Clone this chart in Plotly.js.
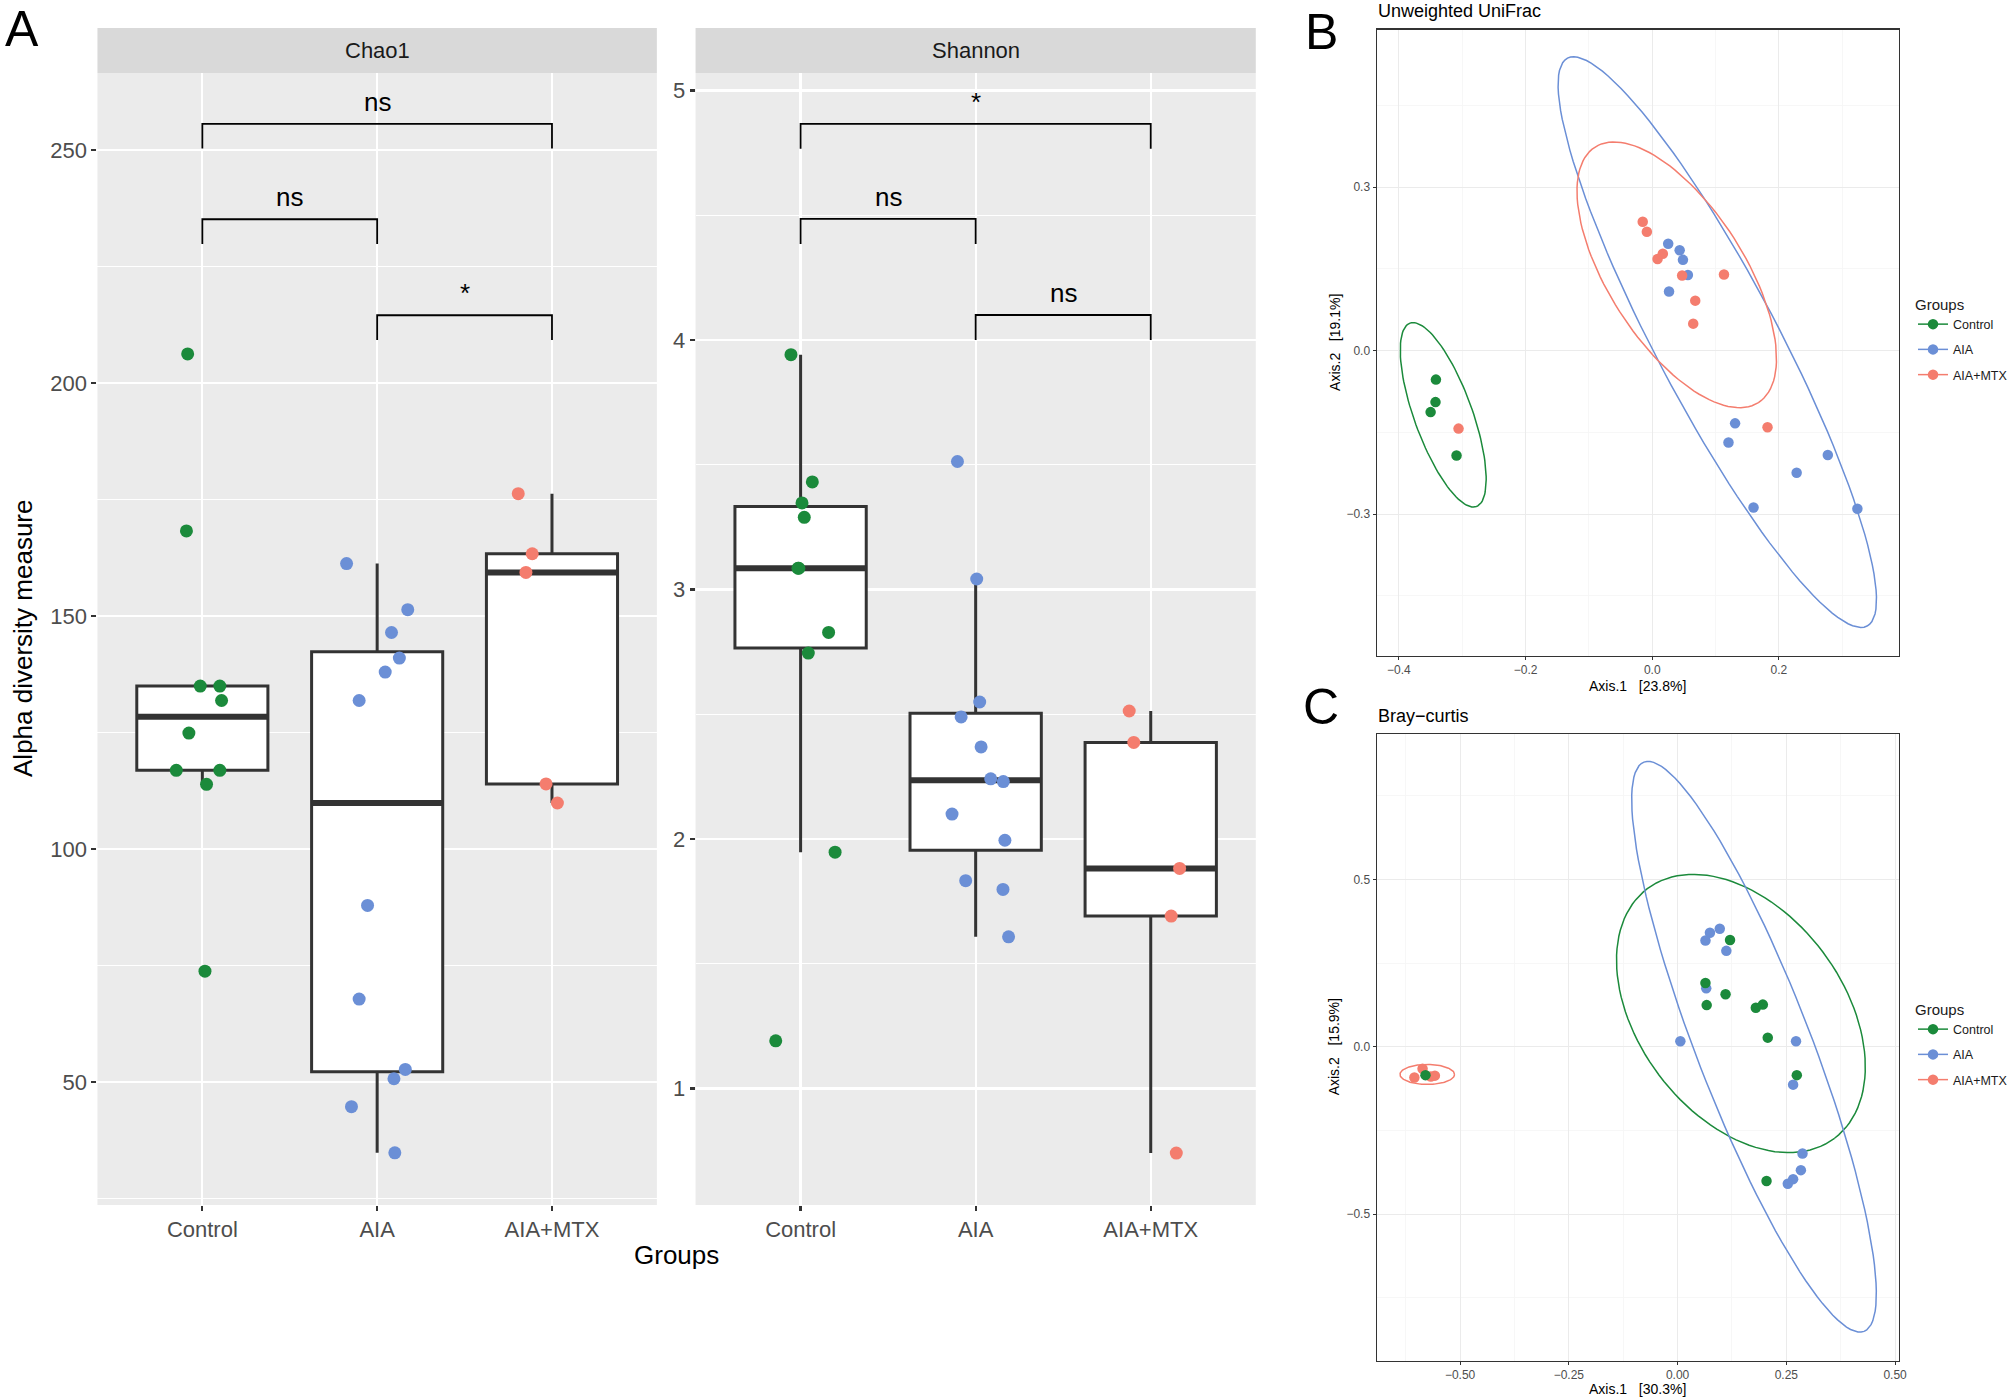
<!DOCTYPE html>
<html>
<head>
<meta charset="utf-8">
<script src="https://cdn.plot.ly/plotly-3.0.1.min.js"></script>
<style>
  html, body { margin: 0; padding: 0; background: #fff; }
  #fig { width: 2013px; height: 1399px; }
</style>
</head>
<body>
<div id="fig"></div>
<script>
// groups and colours used in every panel
let groups = ['Control', 'AIA', 'AIA+MTX'];
let groupColors = ['#1B8A3B', '#6B8FD6', '#F47D6E'];

// panel A, Chao1 values and the horizontal jitter of each dot
let chaoControl = [206.3, 168.3, 135.0, 135.0, 131.9, 124.9, 116.9, 116.9, 113.9, 73.8];
let chaoControlJit = [-0.084, -0.091, -0.012, 0.100, 0.110, -0.077, -0.149, 0.100, 0.024, 0.015];
let chaoAIA = [161.3, 151.4, 146.5, 141.0, 138.0, 131.9, 87.9, 67.8, 52.7, 50.7, 44.7, 34.8];
let chaoAIAJit = [-0.175, 0.175, 0.082, 0.127, 0.046, -0.103, -0.055, -0.103, 0.161, 0.096, -0.147, 0.101];
let chaoMTX = [176.3, 163.4, 159.4, 114.0, 109.9];
let chaoMTXJit = [-0.193, -0.113, -0.149, -0.034, 0.031];

// panel A, Shannon
let shanControl = [3.941, 3.431, 3.347, 3.289, 3.085, 3.085, 2.828, 2.745, 1.947, 1.191];
let shanControlJit = [-0.055, 0.067, 0.008, 0.021, -0.015, -0.010, 0.160, 0.044, 0.197, -0.142];
let shanAIA = [3.513, 3.042, 2.549, 2.489, 2.369, 2.241, 2.230, 2.100, 1.995, 1.833, 1.798, 1.608];
let shanAIAJit = [-0.104, 0.006, 0.023, -0.083, 0.031, 0.086, 0.158, -0.135, 0.167, -0.057, 0.156, 0.188];
let shanMTX = [2.513, 2.387, 1.882, 1.691, 0.741];
let shanMTXJit = [-0.123, -0.097, 0.165, 0.117, 0.146];

// significance brackets: pairs of groups, bar height, label
let bracketPairs = [[0, 2], [0, 1], [1, 2]];
let chaoBracketY = [255.7, 235.2, 214.6];
let chaoBracketText = ['ns', 'ns', '*'];
let shanBracketY = [4.866, 4.485, 4.10];
let shanBracketText = ['*', 'ns', 'ns'];

// panel B, unweighted UniFrac PCoA
let ufControlX = [-0.3415, -0.3422, -0.3499, -0.309];
let ufControlY = [-0.0534, -0.0947, -0.113, -0.1926];
let ufAIAX = [0.0252, 0.0433, 0.0485, 0.0563, 0.0265, 0.1308, 0.1204, 0.2772, 0.228, 0.1599, 0.3239];
let ufAIAY = [0.1958, 0.1838, 0.1663, 0.1384, 0.1082, -0.1337, -0.1687, -0.1918, -0.2244, -0.288, -0.2904];
let ufMTXX = [-0.3058, -0.015, -0.0085, 0.0084, 0.0167, 0.0472, 0.1133, 0.0679, 0.0647, 0.182];
let ufMTXY = [-0.1433, 0.2363, 0.218, 0.1679, 0.1774, 0.1376, 0.1393, 0.0915, 0.0493, -0.1409];
// ellipses: centre x, centre y, first semi-axis (dx, dy), second semi-axis (dx, dy)
let ufEllControl = [-0.330, -0.118, 0.0524, -0.1682, -0.0431, -0.0181];
let ufEllAIA = [0.1027, 0.0154, 0.2365, -0.521, -0.0852, -0.0521];
let ufEllMTX = [0.0387, 0.1389, 0.129, -0.2344, -0.0904, -0.0672];

// panel C, Bray-Curtis PCoA
let bcControlX = [0.1206, 0.0641, 0.1103, 0.0669, 0.1799, 0.196, 0.2073, 0.2741, 0.2045, -0.5795];
let bcControlY = [0.3190, 0.1907, 0.1569, 0.1245, 0.1163, 0.1259, 0.0272, -0.0849, -0.4011, -0.0849];
let bcAIAX = [0.097, 0.0744, 0.0641, 0.1121, 0.0659, 0.0064, 0.2723, 0.2656, 0.2872, 0.2835, 0.2656, 0.2534];
let bcAIAY = [0.3529, 0.3407, 0.3177, 0.2866, 0.1745, 0.0164, 0.0164, -0.1133, -0.3189, -0.3688, -0.3957, -0.4094];
let bcMTXX = [-0.605, -0.5862, -0.5579, -0.5673];
let bcMTXY = [-0.0918, -0.066, -0.0864, -0.0892];
let bcEllControl = [0.1456, 0.0994, 0.2152, -0.3729, -0.1884, -0.1839];
let bcEllAIA = [0.1757, 0.0, 0.253, -0.8507, -0.1228, -0.0618];
let bcEllMTX = [-0.5754, -0.0828, 0.0627, 0, 0, -0.0299];

const W = 2013, H = 1399;
function px(x) { return x / W; }
function py(y) { return 1 - y / H; }

// R type 7 quantile, same as ggplot's boxes
function quant(vals, p) {
  let s = vals.slice().sort((a, b) => a - b);
  let h = (s.length - 1) * p, lo = Math.floor(h);
  let hi = Math.min(lo + 1, s.length - 1);
  return s[lo] + (h - lo) * (s[hi] - s[lo]);
}
function boxStats(vals) {
  let q1 = quant(vals, 0.25), med = quant(vals, 0.5), q3 = quant(vals, 0.75);
  let iqr = q3 - q1;
  let inside = vals.filter(v => v >= q1 - 1.5 * iqr && v <= q3 + 1.5 * iqr);
  return {q1: q1, med: med, q3: q3, lo: Math.min(...inside), hi: Math.max(...inside)};
}

let traces = [];
let annotations = [];
let shapes = [];

function boxPanel(valSets, jitSets, xa, ya, brY, brText, tip) {
  valSets.forEach(function(vals, i) {
    let st = boxStats(vals);
    traces.push({
      type: 'box', x: [i], q1: [st.q1], median: [st.med], q3: [st.q3],
      lowerfence: [st.lo], upperfence: [st.hi], width: 0.75,
      fillcolor: 'white', line: {color: '#333333', width: 3}, whiskerwidth: 0,
      boxpoints: false, xaxis: xa, yaxis: ya, showlegend: false, hoverinfo: 'skip'
    });
    // ggplot draws the median thicker
    traces.push({
      type: 'scatter', mode: 'lines', x: [i - 0.375, i + 0.375], y: [st.med, st.med],
      line: {color: '#333333', width: 6}, xaxis: xa, yaxis: ya, showlegend: false, hoverinfo: 'skip'
    });
  });
  valSets.forEach(function(vals, i) {
    traces.push({
      type: 'scatter', mode: 'markers', x: jitSets[i].map(j => i + j), y: vals,
      marker: {color: groupColors[i], size: 13}, xaxis: xa, yaxis: ya, showlegend: false, hoverinfo: 'skip'
    });
  });
  bracketPairs.forEach(function(pr, k) {
    traces.push({
      type: 'scatter', mode: 'lines', x: [pr[0], pr[0], pr[1], pr[1]],
      y: [brY[k] - tip, brY[k], brY[k], brY[k] - tip],
      line: {color: '#000000', width: 1.8}, xaxis: xa, yaxis: ya, showlegend: false, hoverinfo: 'skip'
    });
    annotations.push({
      xref: xa, yref: ya, x: (pr[0] + pr[1]) / 2, y: brY[k], text: brText[k],
      showarrow: false, yanchor: 'bottom', yshift: 5, font: {size: 26, color: '#000000'}
    });
  });
}

boxPanel([chaoControl, chaoAIA, chaoMTX], [chaoControlJit, chaoAIAJit, chaoMTXJit], 'x', 'y',
  chaoBracketY, chaoBracketText, 5.3);
boxPanel([shanControl, shanAIA, shanMTX], [shanControlJit, shanAIAJit, shanMTXJit], 'x2', 'y2',
  shanBracketY, shanBracketText, 0.1);

function ellipseTrace(e, color, xa, ya) {
  let xs = [], ys = [];
  for (let k = 0; k <= 120; k++) {
    let t = 2 * Math.PI * k / 120;
    xs.push(e[0] + Math.cos(t) * e[2] + Math.sin(t) * e[4]);
    ys.push(e[1] + Math.cos(t) * e[3] + Math.sin(t) * e[5]);
  }
  return {type: 'scatter', mode: 'lines', x: xs, y: ys, line: {color: color, width: 1.5},
    xaxis: xa, yaxis: ya, showlegend: false, hoverinfo: 'skip'};
}
// nulls between points keep the line out of the plot but give the legend key a line
function gap(a) { return a.flatMap(v => [v, null]); }
function pointTrace(xs, ys, i, xa, ya, leg) {
  return {type: 'scatter', mode: 'lines+markers', x: gap(xs), y: gap(ys), connectgaps: false,
    name: groups[i], legend: leg, legendgroup: leg + i, legendrank: i + 1,
    marker: {color: groupColors[i], size: 10.5}, line: {color: groupColors[i], width: 1.5},
    xaxis: xa, yaxis: ya, hoverinfo: 'skip'};
}

traces.push(ellipseTrace(ufEllControl, groupColors[0], 'x3', 'y3'));
traces.push(ellipseTrace(ufEllAIA, groupColors[1], 'x3', 'y3'));
traces.push(ellipseTrace(ufEllMTX, groupColors[2], 'x3', 'y3'));
traces.push(pointTrace(ufControlX, ufControlY, 0, 'x3', 'y3', 'legend'));
traces.push(pointTrace(ufAIAX, ufAIAY, 1, 'x3', 'y3', 'legend'));
traces.push(pointTrace(ufMTXX, ufMTXY, 2, 'x3', 'y3', 'legend'));

traces.push(ellipseTrace(bcEllControl, groupColors[0], 'x4', 'y4'));
traces.push(ellipseTrace(bcEllAIA, groupColors[1], 'x4', 'y4'));
traces.push(ellipseTrace(bcEllMTX, groupColors[2], 'x4', 'y4'));
traces.push(pointTrace(bcMTXX, bcMTXY, 2, 'x4', 'y4', 'legend2'));
traces.push(pointTrace(bcAIAX, bcAIAY, 1, 'x4', 'y4', 'legend2'));
traces.push(pointTrace(bcControlX, bcControlY, 0, 'x4', 'y4', 'legend2'));

let font = 'Liberation Sans, Arial, sans-serif';

function axisA(domain, range, extra) {
  return Object.assign({
    domain: domain, range: range, showgrid: true, gridcolor: '#FFFFFF', gridwidth: 2.2,
    zeroline: false, showline: false, ticks: 'outside', ticklen: 5, tickwidth: 2.2, tickcolor: '#333333',
    tickfont: {size: 22, color: '#4D4D4D'}, fixedrange: true
  }, extra);
}
function axisPC(domain, range, extra) {
  return Object.assign({
    domain: domain, range: range, showgrid: true, gridcolor: '#EBEBEB', gridwidth: 1,
    zeroline: false, showline: true, mirror: true, linecolor: '#333333', linewidth: 1.2,
    ticks: 'outside', ticklen: 3, tickwidth: 1, tickcolor: '#333333',
    tickfont: {size: 12, color: '#4D4D4D'}, fixedrange: true
  }, extra);
}

let aY = [py(1205), py(73)];
let legendStyle = {xanchor: 'left', yanchor: 'top', bgcolor: 'rgba(0,0,0,0)',
  title: {text: 'Groups', font: {size: 15, color: '#1A1A1A'}}, font: {size: 12.5, color: '#1A1A1A'},
  tracegroupgap: 6, itemwidth: 30};
let layout = {
  width: W, height: H, margin: {l: 0, r: 0, t: 0, b: 0},
  paper_bgcolor: '#FFFFFF', plot_bgcolor: 'rgba(0,0,0,0)',
  font: {family: font, color: '#000000'}, hovermode: false,
  xaxis: axisA([px(97.5), px(657.2)], [-0.6, 2.6], {tickvals: [0, 1, 2], ticktext: groups, anchor: 'y'}),
  yaxis: axisA(aY, [23.6, 266.6], {tickvals: [50, 100, 150, 200, 250], anchor: 'x',
    minor: {dtick: 25, tick0: 0, showgrid: true, gridcolor: '#FFFFFF', gridwidth: 1}}),
  xaxis2: axisA([px(695.9), px(1256.4)], [-0.6, 2.6], {tickvals: [0, 1, 2], ticktext: groups, anchor: 'y2'}),
  yaxis2: axisA(aY, [0.533, 5.07], {tickvals: [1, 2, 3, 4, 5], anchor: 'x2',
    minor: {dtick: 0.5, tick0: 0, showgrid: true, gridcolor: '#FFFFFF', gridwidth: 1}}),
  xaxis3: axisPC([px(1377.4), px(1900.2)], [-0.435, 0.390], {dtick: 0.2, tick0: 0, tickformat: '.1f', anchor: 'y3',
    minor: {dtick: 0.1, tick0: 0, showgrid: true, gridcolor: '#F5F5F5', gridwidth: 0.8}}),
  yaxis3: axisPC([py(655.7), py(29.5)], [-0.560, 0.589], {dtick: 0.3, tick0: 0, tickformat: '.1f', anchor: 'x3',
    minor: {dtick: 0.15, tick0: 0, showgrid: true, gridcolor: '#F5F5F5', gridwidth: 0.8}}),
  xaxis4: axisPC([px(1377.4), px(1900.2)], [-0.6916, 0.5096], {dtick: 0.25, tick0: 0, tickformat: '.2f', anchor: 'y4',
    minor: {dtick: 0.125, tick0: 0, showgrid: true, gridcolor: '#F5F5F5', gridwidth: 0.8}}),
  yaxis4: axisPC([py(1360.6), py(733.9)], [-0.938, 0.935], {dtick: 0.5, tick0: 0, tickformat: '.1f', anchor: 'x4',
    minor: {dtick: 0.25, tick0: 0, showgrid: true, gridcolor: '#F5F5F5', gridwidth: 0.8}}),
  legend: Object.assign({x: px(1914), y: py(290)}, legendStyle),
  legend2: Object.assign({x: px(1914), y: py(995)}, legendStyle),
  shapes: shapes,
  annotations: annotations
};

// grey panels and facet strips for A
['x', 'x2'].forEach(function(xa, k) {
  let ya = k === 0 ? 'y' : 'y2';
  shapes.push({type: 'rect', xref: xa + ' domain', yref: ya + ' domain', x0: 0, x1: 1, y0: 0, y1: 1,
    fillcolor: '#EBEBEB', line: {width: 0}, layer: 'below'});
  shapes.push({type: 'rect', xref: xa + ' domain', yref: 'paper', x0: 0, x1: 1, y0: py(73), y1: py(28),
    fillcolor: '#D9D9D9', line: {width: 0}, layer: 'below'});
  annotations.push({xref: xa + ' domain', yref: 'paper', x: 0.5, y: py(50.5), text: k === 0 ? 'Chao1' : 'Shannon',
    showarrow: false, xanchor: 'center', yanchor: 'middle', font: {size: 22, color: '#1A1A1A'}});
});

function label(text, x, y, size, extra) {
  annotations.push(Object.assign({xref: 'paper', yref: 'paper', x: px(x), y: py(y), text: text,
    showarrow: false, xanchor: 'center', yanchor: 'middle', font: {size: size, color: '#000000'}}, extra || {}));
}
label('A', 22, 29, 50);
label('B', 1322, 32, 50);
label('C', 1322, 707, 50);
label('Alpha diversity measure', 23, 638, 26, {textangle: -90});
label('Groups', 677, 1255, 26);
label('Unweighted UniFrac', 1377, 11, 18, {xanchor: 'left'});
label('Bray\u2212curtis', 1377, 716, 18, {xanchor: 'left'});
label('Axis.1\u00a0\u00a0\u00a0[23.8%]', 1638.8, 685.6, 14);
label('Axis.2\u00a0\u00a0\u00a0[19.1%]', 1335, 342.6, 14, {textangle: -90});
label('Axis.1\u00a0\u00a0\u00a0[30.3%]', 1638.8, 1388.6, 14);
label('Axis.2\u00a0\u00a0\u00a0[15.9%]', 1335, 1047, 14, {textangle: -90});

Plotly.newPlot(document.getElementById('fig'), traces, layout, {displayModeBar: false, staticPlot: true});
</script>
</body>
</html>
